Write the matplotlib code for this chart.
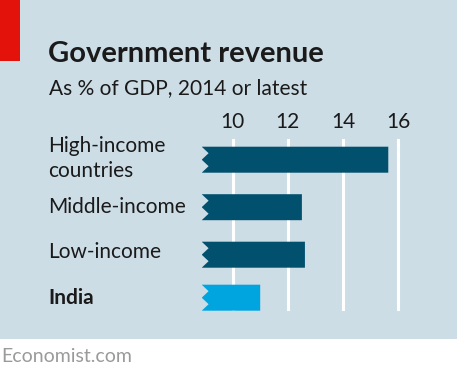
import matplotlib
matplotlib.use("Agg")
import matplotlib.pyplot as plt
from matplotlib.patches import Rectangle, Polygon

categories = ["High-income\ncountries", "Middle-income", "Low-income", "India"]
values = [15.64, 12.51, 12.62, 11.0]
ticks = [10, 12, 14, 16]
title = "Government revenue"
subtitle = "As % of GDP, 2014 or latest"
source = "Economist.com"

BG = "#cddde6"
DARK = "#00506e"
LIGHT = "#00a5df"
RED = "#e3120b"
FONT = "Lato"

W, H = 458, 376
fig = plt.figure(figsize=(W / 100, H / 100), dpi=100)
fig.patch.set_facecolor("white")

# background panel and red tag
fig.add_artist(Rectangle((0, 1 - 339 / H), 457 / W, 339 / H, transform=fig.transFigure,
                         facecolor=BG, edgecolor="none", zorder=0))
fig.add_artist(Rectangle((0, 1 - 61 / H), 20 / W, 61 / H, transform=fig.transFigure,
                         facecolor=RED, edgecolor="none", zorder=1))

fig.text(48 / W, 1 - 62 / H, title, fontsize=21, fontweight="bold", family=FONT,
         color="#1a1a1a", va="baseline", ha="left")
fig.text(49 / W, 1 - 94 / H, subtitle, fontsize=15, family=FONT,
         color="#1a1a1a", va="baseline", ha="left")
fig.text(1 / W, 1 - 362 / H, source, fontsize=14, family=FONT,
         color="#9a9a9a", va="baseline", ha="left")

x0 = 8.88
xmax = 16.3
ppu = 27.6
ax_left = 201.7
ax_top, ax_bot = 139, 311
ax = fig.add_axes([ax_left / W, 1 - ax_bot / H, (xmax - x0) * ppu / W, (ax_bot - ax_top) / H])
ax.set_facecolor("none")
ax.set_xlim(x0, xmax)

ypos = [0, 1, 2, 2.905]
px_per_row = 47.5
ax.set_ylim((ax_bot - 159.7) / px_per_row, (ax_top - 159.7) / px_per_row)
bh = 26 / px_per_row
d = 0.25

for t in ticks:
    ax.axvline(t, color="white", lw=2.2, zorder=1)

colors = [DARK, DARK, DARK, LIGHT]
for y, v, c in zip(ypos, values, colors):
    top, bot = y - bh / 2, y + bh / 2
    pts = [(x0, top), (x0 + d, y - bh / 4), (x0, y), (x0 + d, y + bh / 4), (x0, bot),
           (v, bot), (v, top)]
    ax.add_patch(Polygon(pts, closed=True, facecolor=c, edgecolor="none", zorder=2))

ax.set_xticks(ticks)
ax.set_xticklabels([str(t) for t in ticks], fontsize=15, family=FONT, color="#1a1a1a")
ax.xaxis.tick_top()
ax.tick_params(axis="x", length=0, pad=5)
ax.set_yticks([])
for s in ax.spines.values():
    s.set_visible(False)

label_baselines = [(152, 177), (213,), (258,), (304,)]
for lab, bl in zip(categories, label_baselines):
    lines = lab.split("\n")
    bold = lab == "India"
    for line, b in zip(lines, bl):
        fig.text(48 / W, 1 - b / H, line, fontsize=15, family=FONT,
                 fontweight="bold" if bold else "normal", color="#1a1a1a",
                 va="baseline", ha="left")

fig.savefig("out.png", dpi=100)
